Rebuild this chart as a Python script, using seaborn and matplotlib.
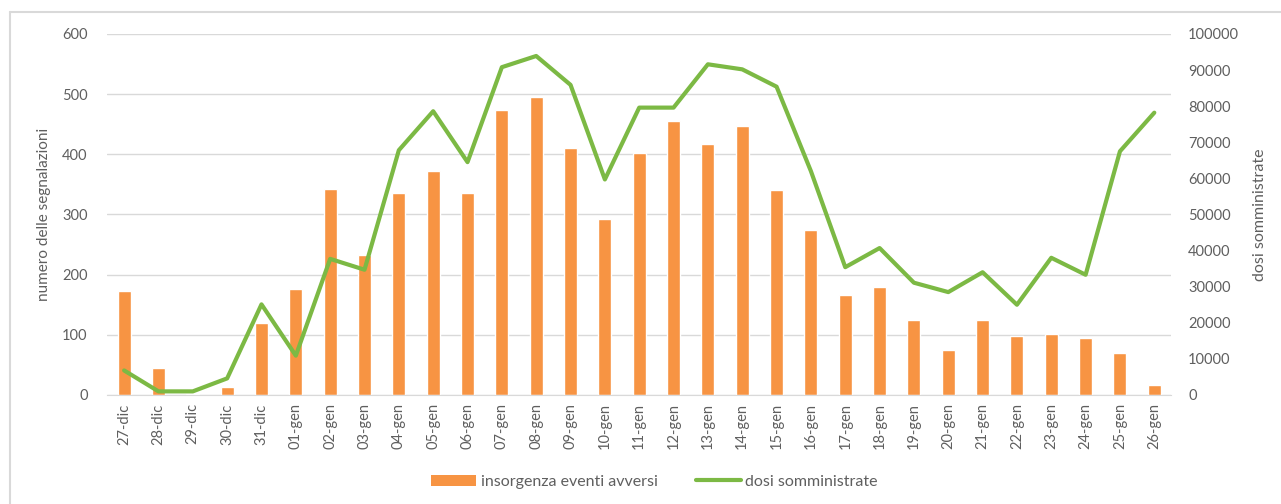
import numpy as np
import pandas as pd
import matplotlib
matplotlib.use("Agg")
import matplotlib.pyplot as plt
from matplotlib.lines import Line2D
from matplotlib.patches import Patch
import seaborn as sns

# Dates (dic 2020 - gen 2021)
DAYS = ["27-dic", "28-dic", "29-dic", "30-dic", "31-dic",
        "01-gen", "02-gen", "03-gen", "04-gen", "05-gen", "06-gen", "07-gen",
        "08-gen", "09-gen", "10-gen", "11-gen", "12-gen", "13-gen", "14-gen",
        "15-gen", "16-gen", "17-gen", "18-gen", "19-gen", "20-gen", "21-gen",
        "22-gen", "23-gen", "24-gen", "25-gen", "26-gen"]

# Number of adverse event reports (left axis)
EVENTS = [172, 45, 2, 13, 119, 176, 342, 233, 336, 373, 335, 473, 496, 410, 293,
          402, 455, 417, 447, 341, 274, 167, 180, 124, 75, 124, 98, 101, 94, 70, 16]

# Administered doses (right axis)
DOSES = [6800, 1000, 1000, 4600, 25100, 10900, 37700, 34700, 67800, 78600, 64500,
         90800, 93900, 85900, 59700, 79600, 79600, 91600, 90200, 85400, 62000,
         35400, 40700, 31100, 28500, 34000, 25000, 38000, 33300, 67500, 78200]

ORANGE = "#F79443"
GREEN = "#7CB944"
GRID = "#D9D9D9"
TEXT = "#5F5F5F"

sns.set_style("white")
plt.rcParams["font.family"] = ["Lato", "DejaVu Sans"]

df = pd.DataFrame({"Giorno": DAYS, "Eventi": EVENTS, "Dosi": DOSES})

fig = plt.figure(figsize=(12.81, 5.04), dpi=100)
ax = fig.add_axes([0.0835, 0.2163, 0.831, 0.7163])

# bars: reports
sns.barplot(data=df, x="Giorno", y="Eventi", color=ORANGE, width=0.38,
            saturation=1, ax=ax, zorder=2)
ax.set_ylim(0, 600)
ax.set_yticks(range(0, 601, 100))
ax.set_xlim(-0.5, len(DAYS) - 0.5)
ax.grid(axis="y", color=GRID, linewidth=1, zorder=0)
ax.set_axisbelow(True)
ax.set_xlabel("")
ax.set_ylabel("numero delle segnalazioni", color=TEXT, fontsize=11, labelpad=8)
ax.tick_params(axis="x", rotation=90, labelsize=10.5, colors=TEXT, length=0, pad=6)
ax.tick_params(axis="y", labelsize=10.5, colors=TEXT, length=0, pad=14)
# Excel-like ticks between categories
ax.set_xticks(np.arange(-0.5, len(DAYS), 1), minor=True)
ax.tick_params(axis="x", which="minor", length=4, color=GRID)
for side in ["top", "left", "right"]:
    ax.spines[side].set_visible(False)
ax.spines["bottom"].set_color(GRID)

# line: doses on secondary axis
ax2 = ax.twinx()
sns.lineplot(data=df, x="Giorno", y="Dosi", color=GREEN, linewidth=3,
             sort=False, ax=ax2)
ax2.set_ylim(0, 100000)
ax2.set_yticks(range(0, 100001, 10000))
ax2.set_xlim(-0.5, len(DAYS) - 0.5)
ax2.set_ylabel("dosi somministrate", color=TEXT, fontsize=11.5, labelpad=10)
ax2.tick_params(axis="y", labelsize=10.5, colors=TEXT, length=0, pad=12)
for side in ["top", "left", "right", "bottom"]:
    ax2.spines[side].set_visible(False)

handles = [Patch(facecolor=ORANGE, edgecolor="none"),
           Line2D([0], [0], color=GREEN, linewidth=3)]
fig.legend(handles, ["insorgenza eventi avversi", "dosi somministrate"],
           loc="center", bbox_to_anchor=(0.511, 0.044), ncol=2, frameon=False,
           fontsize=11.5, labelcolor=TEXT, handlelength=2.8, columnspacing=2.4,
           handletextpad=0.3)

# light chart-area border (top and left edges)
fig.add_artist(Line2D([10 / 1281, 1], [1 - 12 / 504, 1 - 12 / 504],
                      transform=fig.transFigure, color=GRID, linewidth=1.5))
fig.add_artist(Line2D([10 / 1281, 10 / 1281], [0, 1 - 12 / 504],
                      transform=fig.transFigure, color=GRID, linewidth=1.5))

fig.savefig("out.png", dpi=100)
